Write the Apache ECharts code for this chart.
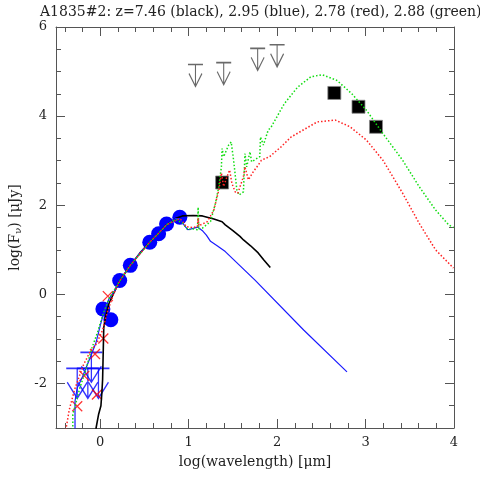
<!DOCTYPE html>
<html>
<head>
<meta charset="utf-8">
<script src="https://cdn.jsdelivr.net/npm/echarts@6/dist/echarts.min.js"></script>
<style>
  html, body { margin: 0; padding: 0; background: #fff; }
  #chart { width: 480px; height: 480px; }
</style>
</head>
<body>
<div id="chart"></div>
<script>
// tick positions
const xMajorTicks = [0, 1, 2, 3, 4]
const xMinorTicks = [-0.4, -0.2, 0.2, 0.4, 0.6, 0.8, 1.2, 1.4, 1.6, 1.8, 2.2, 2.4, 2.6, 2.8, 3.2, 3.4, 3.6, 3.8]
const yMajorTicks = [-2, 0, 2, 4, 6]
const yMinorTicks = [-2.5, -1.5, -1, -0.5, 0.5, 1, 1.5, 2.5, 3, 3.5, 4.5, 5, 5.5]

// observed photometry (log wavelength, log flux)
const detections = [[0.03, -0.33], [0.12, -0.57], [0.22, 0.31], [0.34, 0.65], [0.56, 1.17], [0.66, 1.36], [0.75, 1.58], [0.9, 1.73]]
const farIrPoints = [[1.378, 2.51], [2.647, 4.52], [2.92, 4.21], [3.118, 3.76]]
const greyLimits = [[1.077, 5.16], [1.396, 5.2], [1.78, 5.52], [2.0, 5.6]]
const blueLimits = [[-0.26, -1.66], [-0.14, -1.66], [-0.1, -1.3], [-0.02, -1.66]]
const redCrosses = [[0.086, -0.04], [0.035, -0.99], [-0.059, -1.34], [-0.18, -1.83], [-0.037, -2.25], [-0.26, -2.51]]

// model SEDs
const blackModel = [[-0.047, -3.2], [-0.047, -3.0], [-0.018, -2.69], [0.008, -2.5], [0.019, -2.2], [0.027, -1.91], [0.035, -1.2], [0.04, -0.75], [0.06, -0.5], [0.1, -0.2], [0.17, 0.1], [0.22, 0.3], [0.34, 0.65], [0.45, 0.93], [0.56, 1.17], [0.66, 1.37], [0.75, 1.56], [0.85, 1.7], [0.93, 1.76], [1.05, 1.77], [1.155, 1.76], [1.285, 1.69], [1.378, 1.63], [1.414, 1.56], [1.5, 1.43], [1.58, 1.3], [1.62, 1.22], [1.7, 1.09], [1.786, 0.93], [1.85, 0.77], [1.923, 0.6]]
const blueModel = [[-0.285, -3.2], [-0.285, -2.4], [-0.26, -2.1], [-0.2, -1.85], [-0.12, -1.45], [-0.05, -1.1], [0.0, -0.7], [0.05, -0.35], [0.1, -0.1], [0.17, 0.1], [0.22, 0.3], [0.34, 0.65], [0.45, 0.93], [0.56, 1.17], [0.66, 1.37], [0.75, 1.56], [0.85, 1.7], [0.9, 1.7], [0.95, 1.55], [0.99, 1.45], [1.03, 1.47], [1.1, 1.51], [1.16, 1.42], [1.2, 1.33], [1.247, 1.19], [1.33, 1.08], [1.414, 0.96], [1.75, 0.32], [2.3, -0.8], [2.79, -1.74]]
const greenModel = [[-0.31, -3.2], [-0.31, -2.7], [-0.27, -2.4], [-0.23, -2.1], [-0.16, -1.68], [-0.1, -1.24], [-0.03, -0.85], [0.03, -0.45], [0.1, -0.1], [0.22, 0.3], [0.34, 0.65], [0.56, 1.17], [0.66, 1.37], [0.75, 1.56], [0.85, 1.68], [0.93, 1.6], [0.99, 1.45], [1.05, 1.47], [1.1, 1.45], [1.107, 1.955], [1.115, 1.47], [1.155, 1.485], [1.247, 1.633], [1.303, 2.045], [1.341, 2.416], [1.37, 2.86], [1.378, 3.275], [1.396, 3.09], [1.414, 3.125], [1.452, 3.35], [1.481, 3.42], [1.508, 3.01], [1.545, 2.34], [1.57, 2.23], [1.619, 2.3], [1.637, 3.16], [1.656, 2.86], [1.693, 3.2], [1.712, 2.975], [1.804, 3.09], [1.812, 3.53], [1.845, 3.35], [1.898, 3.68], [1.934, 3.76], [2.082, 4.28], [2.232, 4.65], [2.38, 4.88], [2.51, 4.93], [2.677, 4.8], [2.844, 4.505], [3.011, 4.13], [3.196, 3.61], [3.419, 3.01], [3.605, 2.42], [3.791, 1.895], [3.939, 1.56], [3.994, 1.5]]
const redModel = [[-0.4, -3.2], [-0.385, -3.0], [-0.35, -2.59], [-0.29, -2.14], [-0.196, -1.61], [-0.12, -1.31], [-0.04, -1.1], [0.027, -0.8], [0.08, -0.4], [0.15, 0.0], [0.22, 0.3], [0.34, 0.65], [0.56, 1.17], [0.66, 1.37], [0.75, 1.56], [0.9, 1.7], [0.95, 1.6], [0.969, 1.52], [1.05, 1.5], [1.1, 1.52], [1.107, 1.71], [1.116, 1.54], [1.21, 1.63], [1.285, 1.895], [1.341, 2.34], [1.37, 2.72], [1.396, 2.42], [1.433, 2.64], [1.463, 2.79], [1.489, 2.49], [1.526, 2.3], [1.556, 2.27], [1.619, 2.64], [1.637, 2.86], [1.675, 2.57], [1.73, 2.75], [1.786, 2.9], [1.823, 3.01], [1.915, 3.09], [2.045, 3.31], [2.157, 3.53], [2.454, 3.87], [2.658, 3.91], [2.825, 3.76], [3.011, 3.46], [3.196, 3.01], [3.419, 2.27], [3.605, 1.6], [3.791, 1.0], [3.994, 0.59]]

const FONT = 'DejaVu Serif'
const AXIS_COLOR = '#555'
const X_MIN = -0.5, X_MAX = 4, Y_MIN = -3, Y_MAX = 6

const limitPath = 'path://M0 0 H15 M7.5 0 V22 M1 9 L7.5 22 L14 9'
const blueLimitPath = 'path://M0 0 H22 M11 0 V30 M1 14 L11 30 L21 14'
const crossPath = 'path://M0 0 L10 10 M10 0 L0 10'

const boxLine = { show: true, onZero: false, lineStyle: { color: AXIS_COLOR, width: 1 } }

const tickAxis = (values, len, extra) => Object.assign({
  type: 'value',
  axisLine: { show: false, onZero: false },
  axisLabel: { show: false },
  splitLine: { show: false },
  axisTick: { show: true, inside: true, length: len, customValues: values, lineStyle: { color: AXIS_COLOR } },
}, extra)

const xAxes = [
  tickAxis(xMajorTicks, 9, {
    position: 'bottom',
    axisLine: boxLine,
    axisLabel: { show: true, customValues: xMajorTicks, margin: 8, color: '#222', fontFamily: FONT, fontSize: 13 },
    name: 'log(wavelength) [μm]',
    nameLocation: 'middle',
    nameGap: 27,
    nameTextStyle: { color: '#222', fontFamily: FONT, fontSize: 14 },
  }),
  tickAxis(xMinorTicks, 5, { position: 'bottom' }),
  tickAxis(xMajorTicks, 9, { position: 'top', axisLine: boxLine }),
  tickAxis(xMinorTicks, 5, { position: 'top' }),
].map(a => Object.assign(a, { min: X_MIN, max: X_MAX }))

const yAxes = [
  tickAxis(yMajorTicks, 9, {
    position: 'left',
    axisLine: boxLine,
    axisLabel: { show: true, customValues: yMajorTicks, margin: 9, color: '#222', fontFamily: FONT, fontSize: 13 },
    name: 'log(F{s|ν}) [μJy]',
    nameLocation: 'middle',
    nameRotate: 90,
    nameGap: 33,
    nameTextStyle: {
      color: '#222', fontFamily: FONT, fontSize: 14,
      rich: { s: { fontFamily: FONT, fontSize: 10, color: '#222', padding: [6, 0, 0, 0] } },
    },
  }),
  tickAxis(yMinorTicks, 5, { position: 'left' }),
  tickAxis(yMajorTicks, 9, { position: 'right', axisLine: boxLine }),
  tickAxis(yMinorTicks, 5, { position: 'right' }),
].map(a => Object.assign(a, { min: Y_MIN, max: Y_MAX }))

const solid = (name, data, color, width) => ({
  name, type: 'line', data, symbol: 'none', animation: false, clip: true,
  lineStyle: { color, width, type: 'solid' },
})
const dotted = (name, data, color) => ({
  name, type: 'line', data, symbol: 'none', animation: false, clip: true,
  lineStyle: { color, width: 1.5, type: [1.5, 2] },
})

const option = {
  animation: false,
  backgroundColor: '#fff',
  title: {
    text: 'A1835#2: z=7.46 (black), 2.95 (blue), 2.78 (red), 2.88 (green)',
    left: 35,
    top: 0,
    textStyle: { fontFamily: FONT, fontSize: 14, fontWeight: 'normal', color: '#222' },
  },
  grid: { left: 52, right: 26, top: 27, bottom: 52 },
  xAxis: xAxes,
  yAxis: yAxes,
  series: [
    solid('z=7.46', blackModel, '#000', 1.6),
    solid('z=2.95', blueModel, '#1a1aff', 1.2),
    {
      name: 'blue limits', type: 'scatter', data: blueLimits,
      symbol: blueLimitPath, symbolSize: [22, 30], symbolOffset: [0, 15],
      itemStyle: { color: 'transparent', borderColor: '#0000ff', borderWidth: 1.5 },
    },
    {
      name: 'detections', type: 'scatter', data: detections,
      symbol: 'circle', symbolSize: 15,
      itemStyle: { color: '#0000ff', opacity: 1 },
    },
    {
      name: 'far-IR', type: 'scatter', data: farIrPoints,
      symbol: 'rect', symbolSize: 13,
      itemStyle: { color: '#000', borderColor: '#888', borderWidth: 0.8, opacity: 1 },
    },
    dotted('z=2.88', greenModel, '#11dd11'),
    dotted('z=2.78', redModel, '#ff2222'),
    {
      name: 'crosses', type: 'scatter', data: redCrosses,
      symbol: crossPath, symbolSize: 10,
      itemStyle: { color: 'transparent', borderColor: '#ff0000', borderWidth: 1.3 },
    },
    {
      name: 'limits', type: 'scatter', data: greyLimits,
      symbol: limitPath, symbolSize: [15, 22], symbolOffset: [0, 11],
      itemStyle: { color: 'transparent', borderColor: '#444', borderWidth: 1.3 },
    },
  ],
}

const chart = echarts.init(document.getElementById('chart'), null, { renderer: 'canvas' })
chart.setOption(option)
</script>
</body>
</html>
